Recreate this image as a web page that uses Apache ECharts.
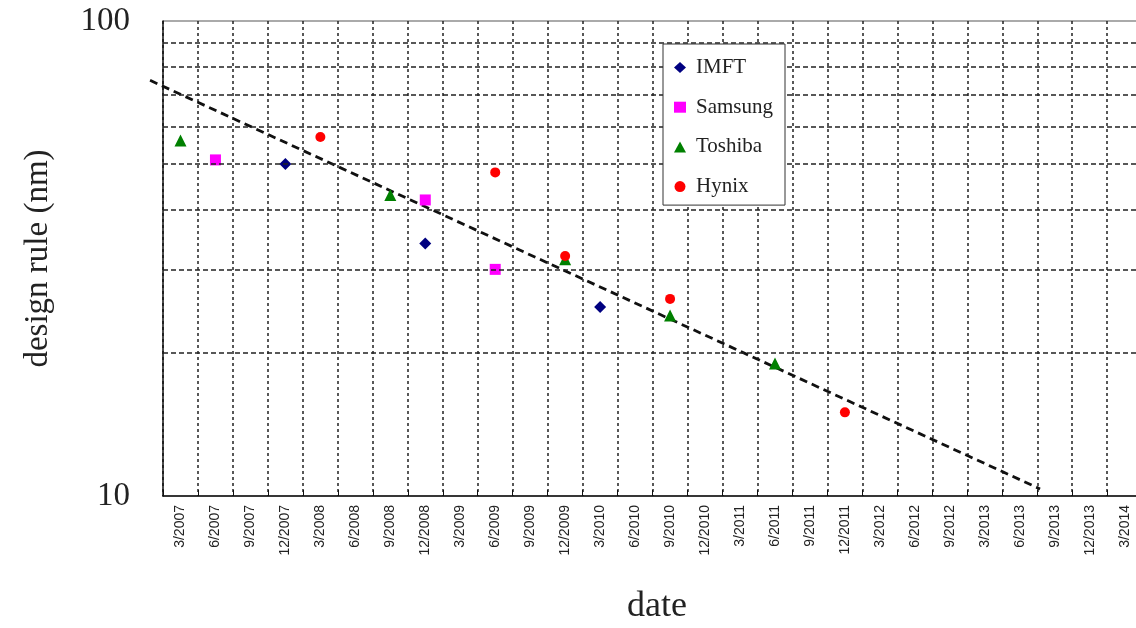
<!DOCTYPE html>
<html>
<head>
<meta charset="utf-8">
<script src="https://cdn.jsdelivr.net/npm/echarts@6/dist/echarts.min.js"></script>
<style>html,body{margin:0;padding:0;background:#fff;overflow:hidden;}#c{width:1200px;height:628px;}</style>
</head>
<body>
<div id="c"></div>
<script>
// x-axis tick labels exactly as in the reference (12/2012 is absent there)
const quarterLabels = ['3/2007','6/2007','9/2007','12/2007','3/2008','6/2008','9/2008','12/2008','3/2009','6/2009','9/2009','12/2009','3/2010','6/2010','9/2010','12/2010','3/2011','6/2011','9/2011','12/2011','3/2012','6/2012','9/2012','3/2013','6/2013','9/2013','12/2013','3/2014'];
const imftDates = ['12/2007','12/2008','3/2010'];
const imftValues = [50, 34, 25];
const samsungDates = ['6/2007','12/2008','6/2009'];
const samsungValues = [51, 42, 30];
const toshibaDates = ['3/2007','9/2008','12/2009','9/2010','6/2011'];
const toshibaValues = [56, 43, 31.5, 24, 19];
const hynixDates = ['3/2008','6/2009','12/2009','9/2010','12/2011'];
const hynixValues = [57, 48, 32, 26, 15];
// trend line endpoints (x in category-index units, y in nm)
const trendX = [-0.87, 24.58];
const trendY = [75, 10.35];
const minorGridValues = [20, 30, 40, 50, 60, 70, 80, 90];

const pairs = (d, v) => d.map((x, i) => [x, v[i]]);
const serif = '"Liberation Serif", "DejaVu Serif", serif';

const plotLeft = 163, plotTop = 21, plotBottom = 132, catWidth = 34.97;
const nCat = quarterLabels.length;

const chart = echarts.init(document.getElementById('c'));
chart.setOption({
  animation: false,
  backgroundColor: '#ffffff',
  title: {
    text: 'date', left: 622, top: 584,
    textStyle: { fontFamily: serif, fontSize: 36, fontWeight: 'normal', color: '#222' }
  },
  legend: {
    orient: 'vertical', left: 663, top: 44, z: 20,
    padding: [13, 12, 8, 11],
    itemWidth: 12, itemHeight: 11, itemGap: 18.7,
    backgroundColor: '#fff', borderColor: '#333', borderWidth: 1,
    data: ['IMFT', 'Samsung', 'Toshiba', 'Hynix'],
    textStyle: { fontFamily: serif, fontSize: 21, color: '#222', width: 78, overflow: 'none', padding: [0, 0, 0, 5] }
  },
  grid: [
    { left: plotLeft, width: catWidth * nCat, top: plotTop, bottom: plotBottom, containLabel: false },
    { left: plotLeft - catWidth, width: catWidth * (nCat + 1), top: plotTop, bottom: plotBottom, containLabel: false, show: false }
  ],
  xAxis: [{
    type: 'category', gridIndex: 0, data: quarterLabels, boundaryGap: true,
    axisLine: { lineStyle: { color: '#111', width: 1.5 } },
    axisTick: { show: true, inside: true, length: 6, interval: 0, lineStyle: { color: '#111' } },
    axisLabel: { interval: 0, rotate: 90, margin: 9, fontFamily: '"Liberation Sans", Arial, sans-serif', fontSize: 14, color: '#222' },
    splitLine: { show: true, interval: 0, lineStyle: { color: '#222', type: [3, 3], width: 1.5 } }
  }, {
    type: 'value', gridIndex: 1, min: -1.5, max: nCat - 0.5, show: false
  }],
  yAxis: [{
    type: 'log', gridIndex: 0, logBase: 10, min: 10, max: 100,
    name: 'design rule (nm)', nameLocation: 'middle', nameGap: 108, nameRotate: 90,
    nameTextStyle: { fontFamily: serif, fontSize: 33, color: '#222' },
    axisLine: { show: true, onZero: false, lineStyle: { color: '#111', width: 1.5 } },
    axisTick: { show: false },
    axisLabel: { margin: 33, fontFamily: serif, fontSize: 33, color: '#222' },
    splitLine: { show: true, lineStyle: { color: '#aaa', width: 2 } }
  }, {
    type: 'log', gridIndex: 1, logBase: 10, min: 10, max: 100, show: false
  }],
  series: [
    {
      name: 'IMFT', type: 'scatter', symbol: 'diamond', symbolSize: 12,
      itemStyle: { color: '#000080', opacity: 1 }, data: pairs(imftDates, imftValues),
      markLine: {
        silent: true, symbol: 'none', label: { show: false },
        lineStyle: { color: '#222', type: [5, 3], width: 1.5 },
        data: minorGridValues.map(v => ({ yAxis: v }))
      }
    },
    { name: 'Samsung', type: 'scatter', symbol: 'rect', symbolSize: 11,
      itemStyle: { color: '#ff00ff', opacity: 1 }, data: pairs(samsungDates, samsungValues) },
    { name: 'Toshiba', type: 'scatter', symbol: 'triangle', symbolSize: 12,
      itemStyle: { color: '#008000', opacity: 1 }, data: pairs(toshibaDates, toshibaValues) },
    { name: 'Hynix', type: 'scatter', symbol: 'circle', symbolSize: 10,
      itemStyle: { color: '#ff0000', opacity: 1 }, data: pairs(hynixDates, hynixValues) },
    {
      name: 'trend', type: 'line', xAxisIndex: 1, yAxisIndex: 1, showSymbol: false, silent: true,
      lineStyle: { color: '#111', width: 2.8, type: [8, 5] },
      data: trendX.map((x, i) => [x, trendY[i]]), z: 1
    }
  ]
});
</script>
</body>
</html>
